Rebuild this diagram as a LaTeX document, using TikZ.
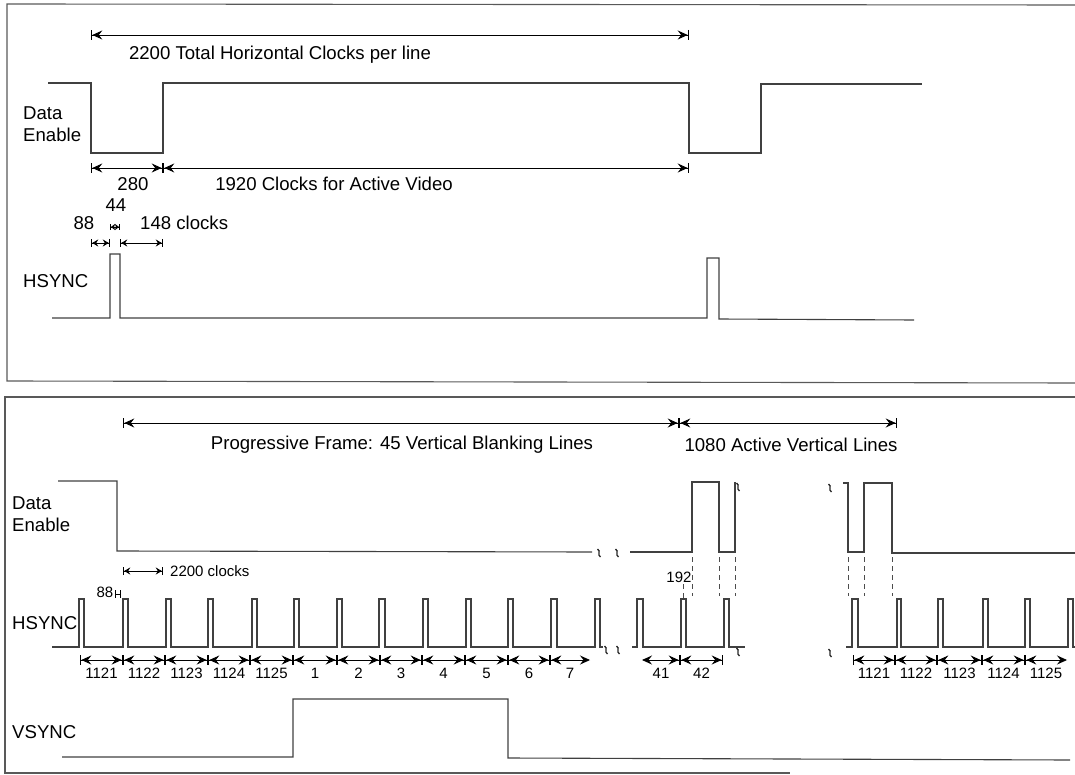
\documentclass[tikz,border=0pt]{standalone}
\usepackage{fontspec}
\setmainfont{Liberation Sans}
\usetikzlibrary{arrows.meta}
\begin{document}
\begin{tikzpicture}[x=1pt,y=-1pt,
  wave/.style={line width=1.1pt,draw=black!75,line join=miter},
  frame/.style={line width=1.1pt,draw=black!65},
  lbl/.style={font=\fontsize{18.6}{22}\selectfont,inner sep=0pt,text=black},
  slbl/.style={font=\fontsize{15}{17}\selectfont,inner sep=0pt,text=black},
  dim/.style={line width=0.9pt,draw=black,{Bar[width=10pt,line width=1.3pt]Stealth[length=10pt,width=9pt,inset=3.5pt]}-{Stealth[length=10pt,width=9pt,inset=3.5pt]Bar[width=10pt,line width=1.3pt]}},
  dimns/.style={line width=0.9pt,draw=black,{Stealth[length=10pt,width=9pt,inset=3.5pt]}-{Stealth[length=10pt,width=9pt,inset=3.5pt]Bar[width=10pt,line width=1.3pt]}},
  dimne/.style={line width=0.9pt,draw=black,{Bar[width=10pt,line width=1.3pt]Stealth[length=10pt,width=9pt,inset=3.5pt]}-{Stealth[length=10pt,width=9pt,inset=3.5pt]}},
  sdim/.style={line width=0.8pt,draw=black,{Bar[width=8pt,line width=1.2pt]Stealth[length=6pt,width=7pt,inset=2pt]}-{Stealth[length=6pt,width=7pt,inset=2pt]Bar[width=8pt,line width=1.2pt]}},
  tdim/.style={line width=0.7pt,draw=black,{Bar[width=6pt,line width=1pt]Stealth[length=4pt,width=6pt,inset=1pt]}-{Stealth[length=4pt,width=6pt,inset=1pt]Bar[width=6pt,line width=1pt]}},
  vdash/.style={line width=0.8pt,draw=black!70,dash pattern=on 5pt off 4pt},
  brk/.pic={\draw[line width=1.3pt,black!85] (-1.5,-4) .. controls (2.5,-1.5) and (-2.5,1.5) .. (1.5,4);}
]
\useasboundingbox (0,0) rectangle (1075,775);

% ---------------- upper panel ----------------
\draw[frame] (1075,5) -- (7,4) -- (7,381) -- (1075,383);

\coordinate (ta) at (91,35);
\coordinate (tb) at (689,35);
\draw[dim] (ta) -- (tb);
\node[lbl] (ttot) at (280,55) {2200 Total Horizontal Clocks per line};

\node[lbl,align=left,anchor=west] (de1) at (23,124) {Data\\Enable};
\draw[wave] (48,83) -- (91,83) -- (91,153) -- (163,153) -- (163,83) -- (689,83)
  -- (689,153) -- (761,153) -- (761,84) -- (922,84);

\coordinate (da) at (91,168);
\coordinate (db) at (163,168);
\coordinate (dc) at (689,168);
\draw[dim] (da) -- (db);
\draw[dim] (db) -- (dc);
\node[lbl] (l280) at (133,184) {280};
\node[lbl] (l1920) at (334,184) {1920 Clocks for Active Video};

\node[lbl] (l44) at (116,205) {44};
\node[lbl] (l88) at (84,223) {88};
\node[lbl,anchor=west] (l148) at (140,223) {148 clocks};
\coordinate (ha) at (91,243);
\coordinate (hb) at (110,243);
\coordinate (hc) at (120,243);
\coordinate (hd) at (163,243);
\coordinate (hb2) at (110,227);
\coordinate (hc2) at (120,227);
\draw[sdim] (ha) -- (hb);
\draw[tdim] (hb2) -- (hc2);
\draw[sdim] (hc) -- (hd);

\node[lbl,anchor=west] (hs1) at (23,281) {HSYNC};
\draw[wave] (52,318) -- (110,318) -- (110,254) -- (120,254) -- (120,318) -- (707,318)
  -- (707,258) -- (719,258) -- (719,319) -- (914,320);

% ---------------- lower panel ----------------
\draw[frame] (1075,397) -- (5,397) -- (5,773) -- (790,773);

\coordinate (pa) at (123,423);
\coordinate (pb) at (679,423);
\coordinate (pc) at (897,423);
\draw[dim] (pa) -- (pb);
\draw[dim] (pb) -- (pc);
\node[lbl] (lprog) at (402,445) {Progressive Frame: 45 Vertical Blanking Lines};
\node[lbl] (lact) at (791,445) {1080 Active Vertical Lines};

\node[lbl,align=left,anchor=west] (de2) at (12,514) {Data\\Enable};
\draw[wave] (58,481) -- (117,481) -- (117,551) -- (592,552);
\pic at (599,553) {brk};
\pic at (617,553) {brk};
\draw[wave] (630,552) -- (692,552) -- (692,482) -- (719,482) -- (719,552) -- (735,552) -- (735,482);
\pic at (738,487) {brk};
\pic at (830,488) {brk};
\draw[wave] (843,483) -- (848,483) -- (848,552) -- (864,552) -- (864,483) -- (892,483) -- (892,553) -- (1075,553);

\coordinate (ca) at (123,571);
\coordinate (cb) at (163,571);
\draw[sdim] (ca) -- (cb);
\node[slbl,anchor=west] (l2200) at (170,571) {2200 clocks};

\node[slbl] (l88b) at (105,592) {88};
\draw[line width=0.7pt] (115,590) -- (115,598) (120,590) -- (120,598) (115,594) -- (120,594);

\node[slbl] (l192) at (679,577) {192};
\foreach \x in {692,719,735,848,864,892}
  \draw[vdash] (\x,557) -- (\x,596);
\draw[vdash] (683,584) -- (683,598);

\node[lbl,anchor=west] (hs2) at (12,623) {HSYNC};
\draw[wave] (52,647)
  foreach \a/\b in {79/84,123/128,166/171,208/213,252/257,294/299,337/342,379/385,423/428,466/471,508/513,551/557,595/600}
  { -- (\a,647) -- (\a,599) -- (\b,599) -- (\b,647) } -- (603,647);
\pic at (606,650) {brk};
\pic at (618,650) {brk};
\draw[wave] (632,647)
  foreach \a/\b in {637/643,681/686,724/729}
  { -- (\a,647) -- (\a,599) -- (\b,599) -- (\b,647) } -- (745,647);
\pic at (738,652) {brk};
\pic at (830,653) {brk};
\draw[wave] (846,647)
  foreach \a/\b in {852/858,897/901,938/943,983/988,1025/1030,1068/1073}
  { -- (\a,647) -- (\a,599) -- (\b,599) -- (\b,647) } -- (1075,647);

% line-count dimension arrows
\foreach \a/\b/\t in {80/123/1121,123/165/1122,165/208/1123,208/250/1124,250/293/1125,293/337/1,337/380/2,380/422/3,422/465/4,465/508/5,508/550/6,680/723/42,853/895/1121,895/937/1122,937/982/1123,982/1025/1124}
{
  \draw[dim] (\a,660) -- (\b,660);
  \node[slbl] at ({(\a+\b)/2},673) {\t};
}
\draw[dimne] (550,660) -- (590,660);
\node[slbl] at (570,673) {7};
\draw[dimns] (642,660) -- (680,660);
\node[slbl] at (661,673) {41};
\draw[dimne] (1025,660) -- (1067,660);
\node[slbl] at (1046,673) {1125};

\node[lbl,anchor=west] (vs) at (12,732) {VSYNC};
\draw[wave] (62,757) -- (293,757) -- (293,699) -- (508,699) -- (508,758) -- (1070,760);

\end{tikzpicture}
\end{document}
